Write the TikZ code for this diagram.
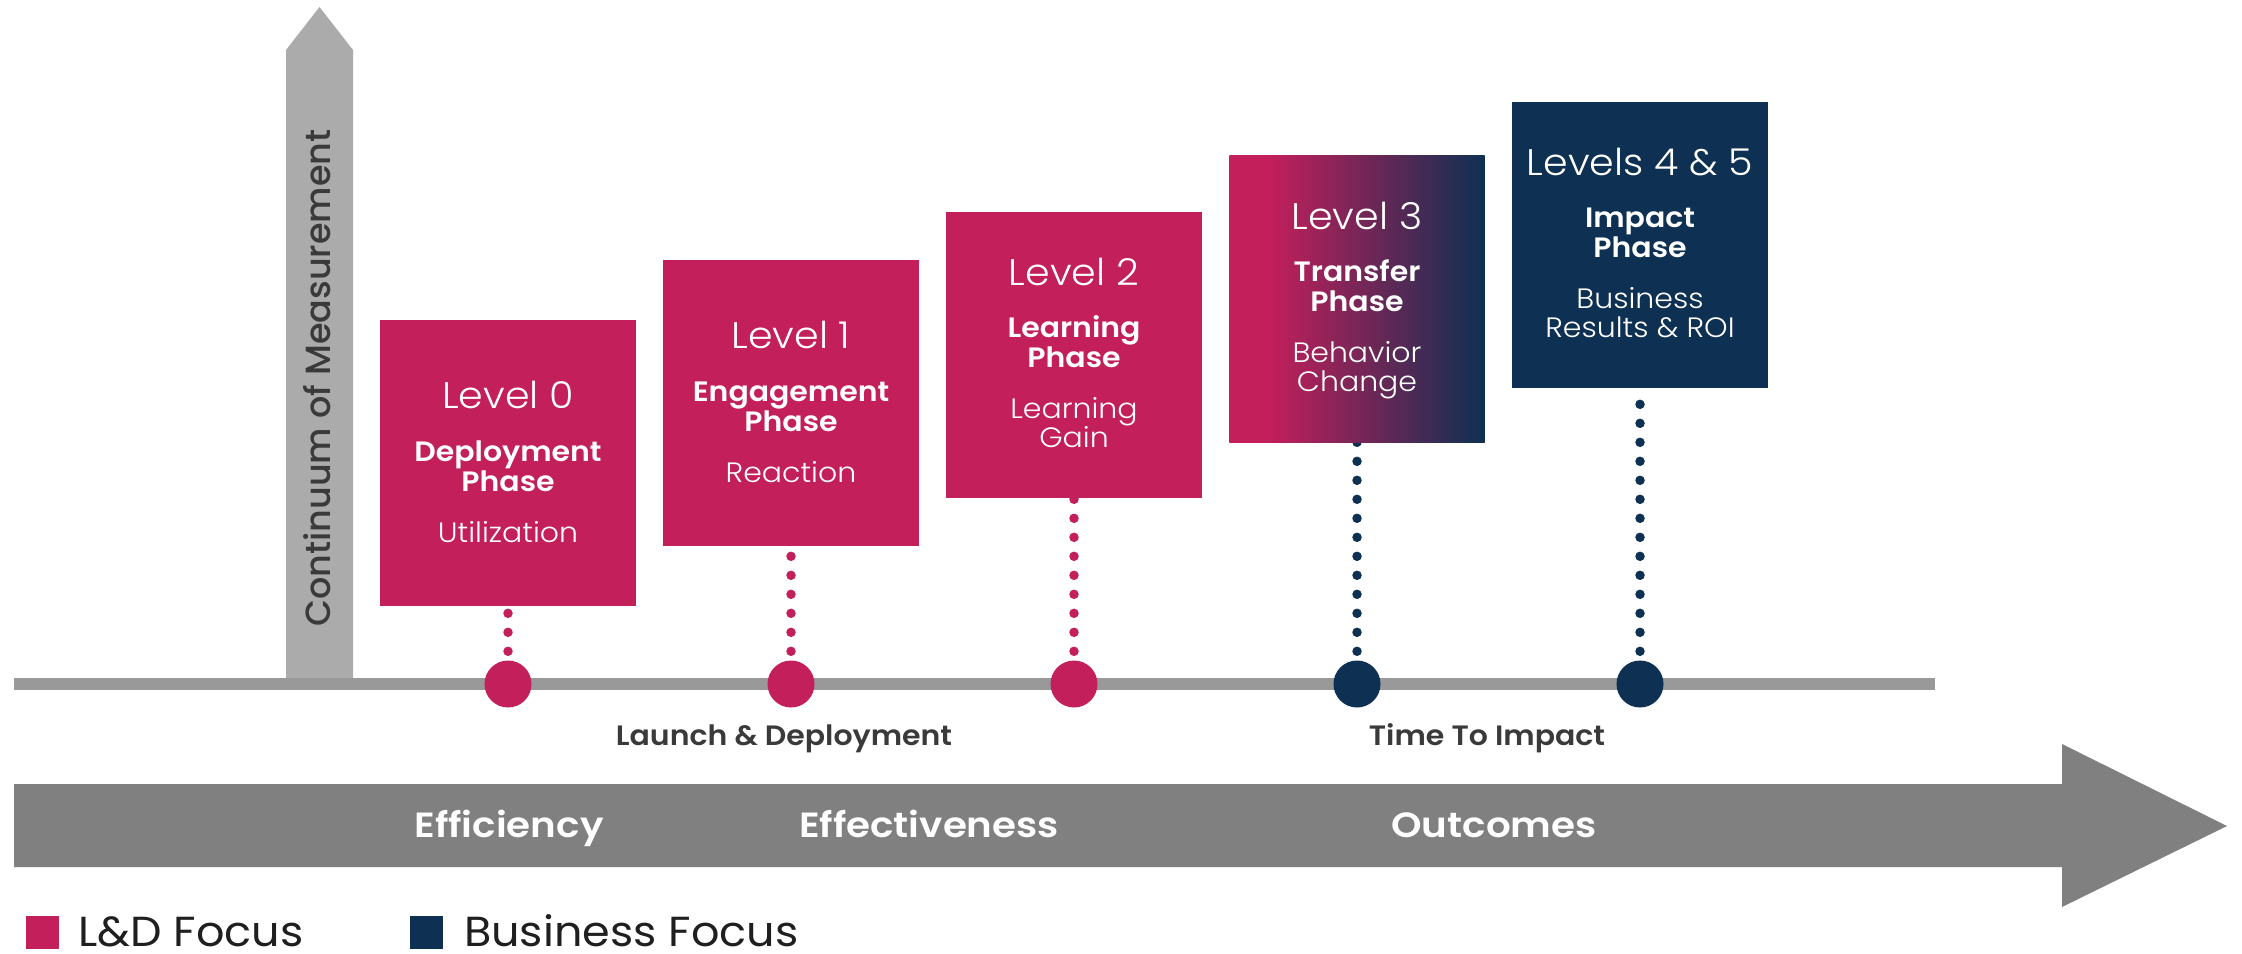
\documentclass[tikz,border=0pt]{standalone}
\usepackage{fontspec}
\setmainfont{Poppins}[FakeStretch=1.06]
\newfontfamily\lightfnt{Poppins Light}[FakeStretch=1.07]
\newfontfamily\semifnt{Poppins SemiBold}[FakeStretch=1.07]
\newfontfamily\widesemifnt{Poppins SemiBold}[FakeStretch=1.11]
\newfontfamily\medfnt{Poppins Medium}
\usetikzlibrary{calc}

\definecolor{mag}{HTML}{C21F5B}
\definecolor{navy}{HTML}{0E3052}
\definecolor{tlgray}{HTML}{999999}
\definecolor{upgray}{HTML}{ABABAB}
\definecolor{bigarrow}{HTML}{808080}
\definecolor{labelgray}{HTML}{3A3A3A}

% magenta that stays solid for a while, then blends to navy
\pgfdeclarehorizontalshading{magnavy}{100bp}{color(0bp)=(mag); color(25bp)=(mag); color(33bp)=(mag); color(75bp)=(navy); color(100bp)=(navy)}

\begin{document}
\begin{tikzpicture}[x=1pt,y=-1pt,
  lvlbox/.style={rectangle, inner sep=0pt, minimum width=255pt, minimum height=286pt},
  ttl/.style={text=white, anchor=base, inner sep=0pt, font=\lightfnt\fontsize{37}{40}\selectfont},
  phs/.style={text=white, anchor=base, inner sep=0pt, font=\semifnt\fontsize{28}{30}\selectfont},
  sub/.style={text=white, anchor=base, inner sep=0pt, font=\lightfnt\fontsize{28}{30}\selectfont},
  mark circ/.style={circle, inner sep=0pt, minimum size=47pt},
  dotline/.style={line width=9.5pt, line cap=round, dash pattern=on 0pt off 19pt},
  phaselabel/.style={text=labelgray, anchor=base, inner sep=0pt, font=\semifnt\fontsize{28}{30}\selectfont},
  arrowlabel/.style={text=white, anchor=base, inner sep=0pt, font=\widesemifnt\fontsize{35}{37}\selectfont},
  keysq/.style={rectangle, inner sep=0pt, minimum size=33pt},
  keytxt/.style={text=black!88, anchor=base west, inner sep=0pt, font=\fontsize{42}{44}\selectfont},
]
\useasboundingbox (0,0) rectangle (2242,953);

% vertical measurement arrow
\fill[upgray] (286,682) -- (286,50) -- (319.5,7) -- (353,50) -- (353,682) -- cycle;
\node[rotate=90, anchor=base, inner sep=0pt, text=labelgray,
      font=\medfnt\fontsize{35}{37}\selectfont] (cont) at (330,378) {Continuum of Measurement};

% timeline
\coordinate (tlL) at (14,684);
\coordinate (tlR) at (1935,684);
\draw[tlgray, line width=12pt] (tlL) -- (tlR);

% markers on the timeline
\node[mark circ, fill=mag]  (c0) at (508,684) {};
\node[mark circ, fill=mag]  (c1) at (791,684) {};
\node[mark circ, fill=mag]  (c2) at (1074,684) {};
\node[mark circ, fill=navy] (c3) at (1357,684) {};
\node[mark circ, fill=navy] (c4) at (1640,684) {};

% level boxes
\node[lvlbox, fill=mag] (b0) at (508,463) {};
\node[lvlbox, fill=mag] (b1) at (791,403) {};
\node[lvlbox, fill=mag] (b2) at (1074,355) {};
\node[lvlbox, shading=magnavy] (b3) at (1357,299) {};
\node[lvlbox, fill=navy] (b4) at (1640,245) {};

% dotted drops from each box to its marker
\draw[dotline, mag]  ($(c0.north)+(0,-9)$) -- (b0.south);
\draw[dotline, mag]  ($(c1.north)+(0,-9)$) -- (b1.south);
\draw[dotline, mag]  ($(c2.north)+(0,-9)$) -- (b2.south);
\draw[dotline, navy] ($(c3.north)+(0,-9)$) -- (b3.south);
\draw[dotline, navy] ($(c4.north)+(0,-9)$) -- (b4.south);

% redraw boxes over the dot ends
\fill[mag] (b0.south west) rectangle (b0.north east);
\fill[mag] (b1.south west) rectangle (b1.north east);
\fill[mag] (b2.south west) rectangle (b2.north east);
\shade[shading=magnavy] (b3.south west) rectangle (b3.north east);
\fill[navy] (b4.south west) rectangle (b4.north east);

% box texts
\node[ttl] (b0a) at ($(b0.center)+(0,-55)$) {Level 0};
\node[phs] (b0b) at ($(b0.center)+(0,-2)$) {Deployment};
\node[phs] (b0c) at ($(b0.center)+(0,28)$) {Phase};
\node[sub] (b0d) at ($(b0.center)+(0,79)$) {Utilization};

\node[ttl] (b1a) at ($(b1.center)+(0,-55)$) {Level 1};
\node[phs] (b1b) at ($(b1.center)+(0,-2)$) {Engagement};
\node[phs] (b1c) at ($(b1.center)+(0,28)$) {Phase};
\node[sub] (b1d) at ($(b1.center)+(0,79)$) {Reaction};

\node[ttl] (b2a) at ($(b2.center)+(0,-70)$) {Level 2};
\node[phs] (b2b) at ($(b2.center)+(0,-18)$) {Learning};
\node[phs] (b2c) at ($(b2.center)+(0,12)$) {Phase};
\node[sub] (b2d) at ($(b2.center)+(0,63)$) {Learning};
\node[sub] (b2e) at ($(b2.center)+(0,92)$) {Gain};

\node[ttl] (b3a) at ($(b3.center)+(0,-70)$) {Level 3};
\node[phs] (b3b) at ($(b3.center)+(0,-18)$) {Transfer};
\node[phs] (b3c) at ($(b3.center)+(0,12)$) {Phase};
\node[sub] (b3d) at ($(b3.center)+(0,63)$) {Behavior};
\node[sub] (b3e) at ($(b3.center)+(0,92)$) {Change};

\node[ttl] (b4a) at ($(b4.center)+(0,-70)$) {Levels 4 \& 5};
\node[phs] (b4b) at ($(b4.center)+(0,-18)$) {Impact};
\node[phs] (b4c) at ($(b4.center)+(0,12)$) {Phase};
\node[sub] (b4d) at ($(b4.center)+(0,63)$) {Business};
\node[sub] (b4e) at ($(b4.center)+(0,92)$) {Results \& ROI};

% phase labels under the timeline
\node[phaselabel] (launch) at (784,745) {Launch \& Deployment};
\node[phaselabel] (tti) at (1487,745) {Time To Impact};

% big horizontal arrow
\fill[bigarrow] (14,784) -- (2062,784) -- (2062,744) -- (2227,826) -- (2062,907) -- (2062,867) -- (14,867) -- cycle;
\node[arrowlabel] (eff) at (509,837) {Efficiency};
\node[arrowlabel] (efv) at (929,837) {Effectiveness};
\node[arrowlabel] (out) at (1494,837) {Outcomes};

% key
\node[keysq, fill=mag]  (k0) at (42.5,932) {};
\node[keytxt] (k0t) at (78,946) {L\&D Focus};
\node[keysq, fill=navy] (k1) at (426,932) {};
\node[keytxt] (k1t) at (464,946) {Business Focus};
\end{tikzpicture}
\end{document}
